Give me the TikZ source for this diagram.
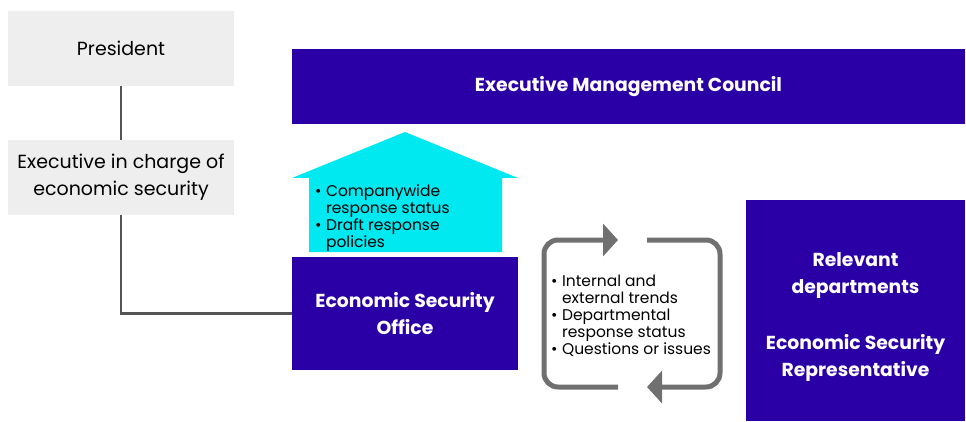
\documentclass[tikz,border=0pt]{standalone}
\usepackage{fontspec}
\setsansfont{Poppins}
\usepackage{tikz}
\usetikzlibrary{arrows.meta}
\usetikzlibrary{positioning,calc}
\definecolor{boxgrey}{RGB}{238,238,238}
\definecolor{councilblue}{RGB}{42,0,166}
\definecolor{reportcyan}{RGB}{0,232,240}
\definecolor{linegrey}{RGB}{85,85,85}
\definecolor{loopgrey}{RGB}{112,112,112}
\tikzset{
	every node/.style={font=\sffamily\fontsize{19}{27}\selectfont}
}
\tikzset{
	x=1pt,y=-1pt,
	grey node/.style={rectangle,fill=boxgrey,align=center,inner sep=0pt},
	blue node/.style={rectangle,fill=councilblue,text=white,align=center,inner sep=0pt,font=\sffamily\bfseries\fontsize{18.8}{27}\selectfont},
	list node/.style={inner sep=0pt,anchor=west,font=\sffamily\fontsize{15.5}{17}\selectfont},
	tie/.style={draw=linegrey,line width=2.5pt},
	loop line/.style={draw=loopgrey,line width=5pt,rounded corners=14pt,-{Triangle[length=15pt,width=32pt]}}
}

\begin{document}
\begin{tikzpicture}
      \useasboundingbox (0,0) rectangle (966,422);
      \node[grey node,minimum width=226pt,minimum height=75pt] (president) at (121,48.5) {President};
      \node[grey node,minimum width=226pt,minimum height=75pt] (executive) at (121,177.5) {Executive in charge of\\economic security};
      \node[blue node,minimum width=673pt,minimum height=75pt] (council) at (628.5,86.5) {Executive Management Council};
      \node[blue node,minimum width=226pt,minimum height=113pt] (office) at (405,313.5) {Economic Security\\Office};
      \node[blue node,minimum width=219pt,minimum height=221pt] (departments) at (855.5,310.5) {\rule{0pt}{26pt}Relevant\\departments\\[29pt]Economic Security\\Representative};
      \path[tie] (president) -- (executive);
      \path[tie] (executive) |- (office);
      % report arrow up to the council
      \fill[reportcyan] (309,252) -- (309,178) -- (292,178) -- (405,132) -- (518,178) -- (502,178) -- (502,252) -- cycle;
      \node[list node] (report) at (315,218.5) {\begin{tabular}{@{}l@{\hspace{4.5pt}}l@{}}
        \textbullet & Companywide\\ & response status\\
        \textbullet & Draft response\\ & policies
      \end{tabular}};
      % exchange loop with the departments
      \coordinate (loop a) at (618,387);
      \coordinate (loop b) at (618,240);
      \coordinate (loop c) at (647,240);
      \coordinate (loop d) at (647,387);
      \draw[loop line] (loop a) -| (544,240) -- (loop b);
      \draw[loop line] (loop c) -| (720,387) -- (loop d);
      \node[list node] (exchange) at (551,317.5) {\begin{tabular}{@{}l@{\hspace{4.5pt}}l@{}}
        \textbullet & Internal and\\ & external trends\\
        \textbullet & Departmental\\ & response status\\
        \textbullet & Questions or issues
      \end{tabular}};
    \end{tikzpicture}
\end{document}
